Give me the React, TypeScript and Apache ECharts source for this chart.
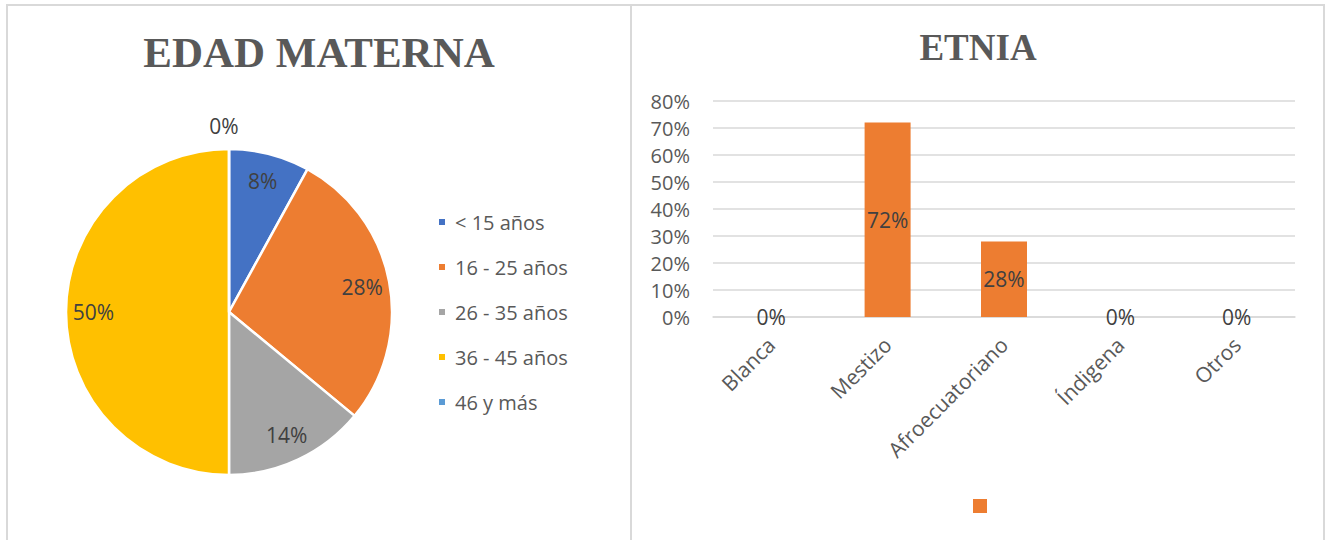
import React, { useEffect, useRef } from "react";
import * as echarts from "echarts";

const ageCategories = ["< 15 años", "16 - 25 años", "26 - 35 años", "36 - 45 años", "46 y más"];
const ageValues = [8, 28, 14, 50, 0];
const ageColors = ["#4472C4", "#ED7D31", "#A5A5A5", "#FFC000", "#5B9BD5"];

const ethnicCategories = ["Blanca", "Mestizo", "Afroecuatoriano", "Índigena", "Otros"];
const ethnicValues = [0, 0.72, 0.28, 0, 0];
const yTicks = { min: 0, max: 0.8, interval: 0.1 };

const FONT = "'Open Sans', sans-serif";
const TEXT = "#595959";
const LABEL = "#404040";
const FRAME = "#D9D9D9";

export default function App() {
  const ref = useRef<HTMLDivElement>(null);
  useEffect(() => {
    document.body.style.margin = "0";
    const chart = echarts.init(ref.current!, null, { renderer: "svg" });
    const pieData = ageCategories.map((name, i) => ({
      name,
      value: ageValues[i],
      itemStyle: { color: ageColors[i] },
    }));
    chart.setOption({
      animation: false,
      backgroundColor: "#fff",
      title: [
        {
          text: "EDAD MATERNA",
          left: 319,
          top: 31,
          padding: 0,
          textAlign: "center",
          textStyle: { fontFamily: "'Liberation Serif', serif", fontWeight: "bold", fontSize: 43, color: TEXT },
        },
        {
          text: "ETNIA",
          left: 978,
          top: 29,
          padding: 0,
          textAlign: "center",
          textStyle: { fontFamily: "'Liberation Serif', serif", fontWeight: "bold", fontSize: 37, color: TEXT },
        },
      ],
      legend: [
        {
          data: ageCategories,
          orient: "vertical",
          left: 437,
          top: 212,
          padding: 0,
          icon: "rect",
          itemWidth: 8,
          itemHeight: 8,
          itemGap: 25,
          selectedMode: false,
          textStyle: { fontFamily: FONT, fontSize: 20, color: TEXT, lineHeight: 20, padding: [0, 0, 0, 4] },
        },
        {
          data: [" "],
          left: 973,
          top: 499,
          padding: 0,
          icon: "rect",
          itemWidth: 14,
          itemHeight: 14,
          selectedMode: false,
          textStyle: { fontSize: 10, color: TEXT },
        },
      ],
      grid: { left: 713, right: 36, top: 101, bottom: 223, containLabel: false },
      xAxis: {
        type: "category",
        data: ethnicCategories,
        axisLine: { show: true, lineStyle: { color: FRAME, width: 1.5 } },
        axisTick: { show: false },
        axisLabel: { rotate: 45, margin: 24, fontFamily: FONT, fontSize: 21, color: TEXT, interval: 0 },
      },
      yAxis: {
        type: "value",
        min: yTicks.min,
        max: yTicks.max,
        interval: yTicks.interval,
        axisLine: { show: false },
        axisTick: { show: false },
        splitLine: { lineStyle: { color: FRAME, width: 1.5 } },
        axisLabel: {
          margin: 23,
          fontFamily: FONT,
          fontSize: 20,
          color: TEXT,
          formatter: (v: number) => Math.round(v * 100) + "%",
        },
      },
      series: [
        {
          type: "pie",
          center: [229, 312],
          radius: 163,
          startAngle: 90,
          clockwise: true,
          avoidLabelOverlap: false,
          itemStyle: { borderColor: "#fff", borderWidth: 2.5 },
          label: { show: false },
          labelLine: { show: false },
          data: pieData.map((d, i) =>
            ageValues[i] === 0
              ? {
                  ...d,
                  label: {
                    show: true,
                    position: "outside",
                    formatter: "{d}%",
                    fontFamily: FONT,
                    fontSize: 21,
                    color: LABEL,
                  },
                  labelLine: { show: false, length: 23, length2: 0 },
                }
              : d
          ),
          labelLayout: (p: any) => (p.dataIndex === 4 ? { align: "center" } : {}),
          silent: true,
        },
        {
          type: "pie",
          center: [229, 312],
          radius: [102, 163],
          startAngle: 90,
          clockwise: true,
          silent: true,
          itemStyle: { color: "transparent", borderWidth: 0 },
          label: {
            show: true,
            position: "inside",
            formatter: (p: any) => (p.value === 0 ? "" : p.value + "%"),
            fontFamily: FONT,
            fontSize: 21,
            color: LABEL,
          },
          labelLine: { show: false },
          data: ageCategories.map((name, i) => ({ name, value: ageValues[i] })),
        },
        {
          type: "bar",
          name: " ",
          data: ethnicValues,
          barWidth: 46,
          itemStyle: { color: "#ED7D31" },
          label: {
            show: true,
            position: "inside",
            fontFamily: FONT,
            fontSize: 21,
            color: LABEL,
            formatter: (p: any) => Math.round(p.value * 100) + "%",
          },
        },
      ],
      graphic: [
        { type: "line", shape: { x1: 6, y1: 5, x2: 1325, y2: 5 }, style: { stroke: FRAME, lineWidth: 2 } },
        { type: "line", shape: { x1: 7, y1: 5, x2: 7, y2: 540 }, style: { stroke: FRAME, lineWidth: 2 } },
        { type: "line", shape: { x1: 631, y1: 5, x2: 631, y2: 540 }, style: { stroke: FRAME, lineWidth: 2 } },
        { type: "line", shape: { x1: 1324, y1: 5, x2: 1324, y2: 540 }, style: { stroke: FRAME, lineWidth: 2 } },
      ],
    });
    return () => chart.dispose();
  }, []);
  return <div ref={ref} style={{ width: 1331, height: 540 }} />;
}
